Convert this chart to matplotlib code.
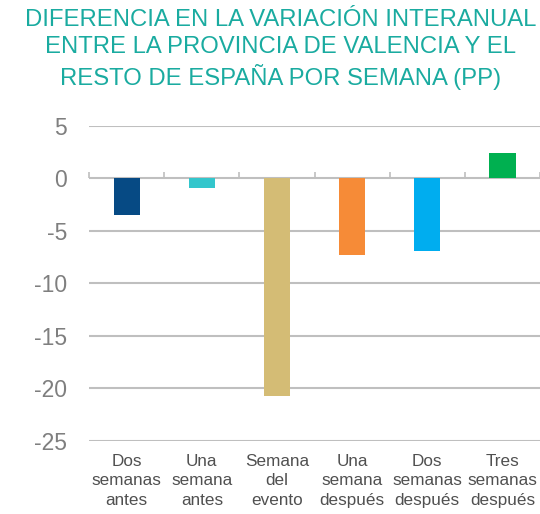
import matplotlib
matplotlib.use("Agg")
import matplotlib.pyplot as plt
import numpy as np

categories = ["Dos\nsemanas\nantes", "Una\nsemana\nantes", "Semana\ndel\nevento",
              "Una\nsemana\ndespués", "Dos\nsemanas\ndespués", "Tres\nsemanas\ndespués"]
values = [-3.5, -0.9, -20.7, -7.3, -6.9, 2.4]
colors = ["#064A84", "#33C6CC", "#D4BC75", "#F68B37", "#00ADEF", "#00B050"]
yticks = [5, 0, -5, -10, -15, -20, -25]
title = "DIFERENCIA EN LA VARIACIÓN INTERANUAL\nENTRE LA PROVINCIA DE VALENCIA Y EL\nRESTO DE ESPAÑA POR SEMANA (PP)"

plt.rcParams['font.family'] = ['Liberation Sans', 'DejaVu Sans']

fig = plt.figure(figsize=(5.4, 5.14), dpi=100)
ax = fig.add_axes([0.165, 0.142, 0.835, 0.613])

x = np.arange(len(values))
ax.bar(x, values, width=0.35, color=colors, zorder=3)

ax.set_ylim(-25, 5)
ax.set_xlim(-0.5, len(values) - 0.5)
ax.set_yticks(yticks)
ax.set_yticklabels([str(v) for v in yticks])
ax.tick_params(axis='y', length=0, labelsize=16.5, colors="#7F7F7F", pad=16)
ax.yaxis.grid(True, color="#BFBFBF", linewidth=1.5, zorder=0)

ax.set_xticks(x)
ax.set_xticklabels(categories, fontsize=12.3, color="#505050", linespacing=1.4)
ax.tick_params(axis='x', length=0, pad=9)

for s in ax.spines.values():
    s.set_visible(False)

sec = ax.secondary_xaxis(25 / 30)
sec.set_xticks(np.arange(-0.5, len(values) + 0.5, 1.0))
sec.set_xticklabels([])
sec.tick_params(axis='x', direction='out', length=4, color="#BFBFBF", width=1.2)
sec.spines['bottom'].set_visible(False)
sec.spines['top'].set_visible(False)

fig.text(0.52, 0.982, title, ha='center', va='top', fontsize=17.2,
         color="#1AABA0", linespacing=1.27)

fig.savefig("out.png", dpi=100)
